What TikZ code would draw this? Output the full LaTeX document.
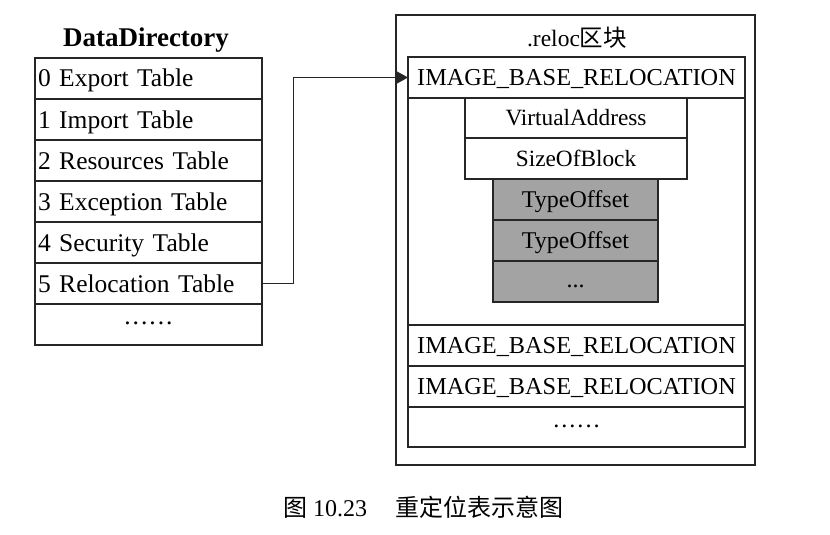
\documentclass[tikz,border=0pt]{standalone}
\usepackage{fontspec}
\setmainfont{Liberation Serif}
\newfontfamily\cjk{Noto Sans CJK SC}
\usetikzlibrary{arrows.meta}
\tikzset{
  every node/.style={inner sep=0pt, outer sep=0pt},
  ln/.style={draw=black!85, line width=1.3pt},
  dotsc/.style={text height=0pt, text depth=0pt},
  cell/.style={ln, text height=17pt, text depth=0pt, anchor=north west, minimum width=227pt, minimum height=41pt,
    text width=221pt, align=left, inner xsep=3pt, font=\fontsize{25.5}{28}\selectfont},
  rcell/.style={ln, text height=16pt, text depth=0pt, anchor=north west, minimum width=337pt, minimum height=41pt,
    font=\fontsize{24.3}{28}\selectfont},
  vcell/.style={ln, text height=15.5pt, text depth=0pt, anchor=north west, fill=white, minimum width=222pt, minimum height=40pt,
    font=\fontsize{23.3}{26}\selectfont},
  gcell/.style={ln, text height=16pt, text depth=0pt, anchor=north west, fill=black!36, minimum width=165pt, minimum height=41pt,
    font=\fontsize{24}{26}\selectfont},
}
\newcommand{\sixdots}{.\kern2pt.\kern2pt.\kern2pt.\kern2pt.\kern2pt.}
\begin{document}
\begin{tikzpicture}[x=1pt,y=-1pt]
\useasboundingbox (0,0) rectangle (830,535);
% left table
\node[font=\bfseries\fontsize{27}{30}\selectfont] (dd) at (146,40) {DataDirectory};
\node[cell] (r0) at (35,58) {0 Export Table};
\node[cell] (r1) at (35,99) {1 Import Table};
\node[cell] (r2) at (35,140) {2 Resources Table};
\node[cell] (r3) at (35,181) {3 Exception Table};
\node[cell] (r4) at (35,222) {4 Security Table};
\node[cell] (r5) at (35,263) {5 Relocation Table};
\node[cell, dotsc, align=center, minimum height=41pt] (r6) at (35,304) {\sixdots};
% right section
\node[ln, anchor=north west, minimum width=359pt, minimum height=450pt] (sec) at (396,15) {};
\node[font=\fontsize{23.5}{28}\selectfont] (sectitle) at (577,38) {.reloc{\cjk 区块}};
\node[ln, anchor=north west, minimum width=337pt, minimum height=390pt] (blk) at (408,57) {};
\node[rcell] (ibr1) at (408,57) {IMAGE\_BASE\_RELOCATION};
\node[vcell] (va) at (465,98) {VirtualAddress};
\node[vcell, minimum height=41pt] (sob) at (465,138) {SizeOfBlock};
\node[gcell] (t1) at (493,179) {TypeOffset};
\node[gcell] (t2) at (493,220) {TypeOffset};
\node[gcell, text height=12pt, text depth=0pt] (t3) at (493,261) {...};
\node[rcell] (ibr2) at (408,325) {IMAGE\_BASE\_RELOCATION};
\node[rcell] (ibr3) at (408,366) {IMAGE\_BASE\_RELOCATION};
\node[rcell, dotsc, minimum height=40pt] (rdots) at (408,407) {\sixdots};
% connector
\draw[line width=0.9pt, draw=black!85, -{Triangle[length=12pt,width=13pt]}]
  (r5.east) -- ++(31,0) |- (ibr1.west);
% caption
\node[font=\fontsize{24}{28}\selectfont] (cap) at (423,507) {{\cjk 图} 10.23\hspace{28pt}{\cjk 重定位表示意图}};
\end{tikzpicture}
\end{document}
